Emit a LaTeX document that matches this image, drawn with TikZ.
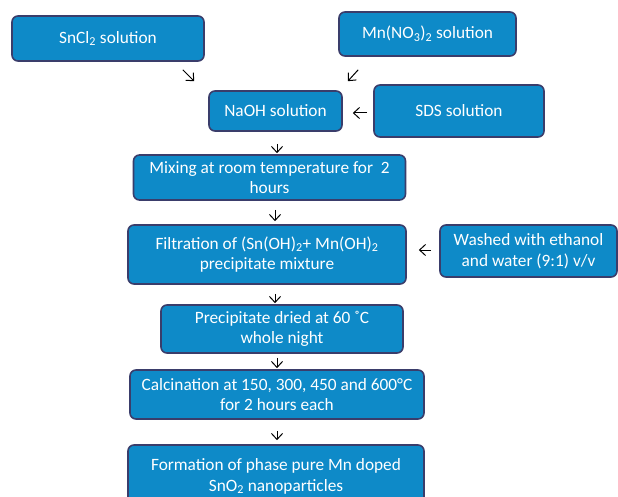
\documentclass[tikz,border=0pt]{standalone}
\usepackage{fontspec}
\setmainfont{Carlito}
\usetikzlibrary{arrows.meta}
\definecolor{boxblue}{HTML}{0E8AC8}
\definecolor{boxedge}{HTML}{3A3D6B}
\tikzset{
  stepbox/.style={draw=boxedge, fill=boxblue, line width=1.6pt, rounded corners=6pt,
    text=white, align=center, inner sep=0pt, font=\fontsize{17.3}{20.5}\selectfont},
  flow/.style={-{Straight Barb[length=6pt,width=11pt]}, line width=1pt, black}
}
\begin{document}
\begin{tikzpicture}[x=1pt,y=-1pt]
\useasboundingbox (0,0) rectangle (618,497);
% starting solutions
\node[stepbox, minimum width=192pt, minimum height=45pt] (sncl) at (108,38.5) {SnCl\textsubscript{2} solution};
\node[stepbox, minimum width=177pt, minimum height=44pt] (mnno) at (427.5,34) {Mn(NO\textsubscript{3})\textsubscript{2} solution};
\node[stepbox, minimum width=133pt, minimum height=40pt] (naoh) at (275.5,111) {NaOH solution};
\node[stepbox, minimum width=170pt, minimum height=52pt] (sds) at (459,111) {SDS solution};
% process steps
\node[stepbox, minimum width=272pt, minimum height=45pt] (mix) at (269.5,177.5) {Mixing at room temperature for~ 2\\hours};
\node[stepbox, minimum width=278pt, minimum height=59pt] (filt) at (267,254.5) {Filtration of (Sn(OH)\textsubscript{2}+ Mn(OH)\textsubscript{2}\\precipitate mixture};
\node[stepbox, minimum width=177pt, minimum height=52pt] (wash) at (528.5,251) {Washed with ethanol\\and water (9:1) v/v};
\node[stepbox, minimum width=242pt, minimum height=48pt] (dry) at (282,329) {Precipitate dried at 60 ˚C\\whole night};
\node[stepbox, minimum width=294pt, minimum height=49pt] (calc) at (277,394.5) {Calcination at 150, 300, 450 and 600°C\\for 2 hours each};
\node[stepbox, minimum width=296pt, minimum height=60pt, text depth=0pt] (form) at (276,475) {Formation of phase pure Mn doped\\SnO\textsubscript{2} nanoparticles};
% arrows
\draw[flow] ([xshift=-22pt,yshift=-8pt]sncl.south east) -- ([xshift=-14pt,yshift=9pt]naoh.north west);
\draw[flow] ([xshift=20pt,yshift=-13pt]mnno.south west) -- ([xshift=5pt,yshift=9pt]naoh.north east);
\draw[flow] ([xshift=-6pt,yshift=-2pt]sds.west) -- ([xshift=10pt,yshift=-2pt]naoh.east);
\draw[flow] ([xshift=1.5pt,yshift=-12pt]naoh.south) -- ([xshift=7.5pt,yshift=1pt]mix.north);
\draw[flow] ([xshift=5.5pt,yshift=-9pt]mix.south) -- ([xshift=8pt,yshift=3pt]filt.north);
\draw[flow] ([xshift=-8pt,yshift=1pt]wash.west) -- ([xshift=12pt,yshift=4.5pt]filt.east);
\draw[flow] ([xshift=8pt,yshift=-9pt]filt.south) -- ([xshift=-7pt,yshift=1pt]dry.north);
\draw[flow] ([xshift=-5pt,yshift=-4pt]dry.south) -- ([yshift=1pt]calc.north);
\draw[flow] ([yshift=-11pt]calc.south) -- ([xshift=1pt,yshift=4pt]form.north);
\end{tikzpicture}
\end{document}
